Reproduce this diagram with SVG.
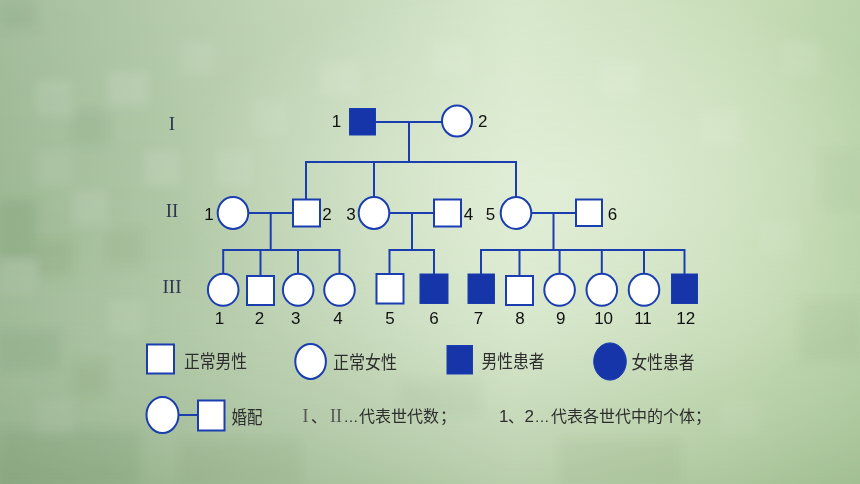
<svg xmlns="http://www.w3.org/2000/svg" width="860" height="484" viewBox="0 0 860 484">
<defs>
  <linearGradient id="bgH" x1="0" y1="0" x2="1" y2="0">
    <stop offset="0" stop-color="#9db894"/>
    <stop offset="0.3" stop-color="#b9cfae"/>
    <stop offset="0.6" stop-color="#d3e5c6"/>
    <stop offset="0.85" stop-color="#c4dbb3"/>
    <stop offset="1" stop-color="#b5d0a4"/>
  </linearGradient>
  <linearGradient id="bgV" x1="0" y1="0" x2="0" y2="1">
    <stop offset="0" stop-color="#ffffff" stop-opacity="0.08"/>
    <stop offset="0.5" stop-color="#ffffff" stop-opacity="0"/>
    <stop offset="1" stop-color="#5d7f52" stop-opacity="0.22"/>
  </linearGradient>
  <radialGradient id="glow" cx="0.65" cy="0.4" r="0.45">
    <stop offset="0" stop-color="#eef6e6" stop-opacity="0.55"/>
    <stop offset="1" stop-color="#eef6e6" stop-opacity="0"/>
  </radialGradient>
  <filter id="soft" x="-5%" y="-5%" width="110%" height="110%">
    <feGaussianBlur stdDeviation="5"/>
  </filter>
  <style>
    .ln{fill:none;stroke:#1a3db0;stroke-width:2}
    .m{fill:#ffffff;stroke:#1a3db0;stroke-width:2}
    .a{fill:#1535a8;stroke:#1a3db0;stroke-width:1}
    .num{font-family:"Liberation Sans",Arial,sans-serif;font-size:17px;fill:#111111}
    .rom{font-family:"Liberation Serif","Times New Roman",serif;font-size:19px;fill:#2e3650}
    .lg{font-family:"Noto Sans CJK SC","Noto Sans",sans-serif;font-size:18px;fill:#2d2d2d}
    .lg2{font-family:"Noto Sans CJK SC","Noto Sans",sans-serif;font-size:16px;fill:#2d2d2d}
    .ser{font-family:"Liberation Serif","Times New Roman",serif;font-size:18px;fill:#555555}
    .san{font-family:"Liberation Sans",Arial,sans-serif;font-size:17px}
    .ell{font-family:"Liberation Sans",Arial,sans-serif;font-size:15px}
    .lt{fill:#ffffff}
    .dk{fill:#4f7446}
  </style>
</defs>

<g id="background">
  <rect x="0" y="0" width="860" height="484" fill="url(#bgH)"/>
  <g filter="url(#soft)">
    <rect class="lt" x="36" y="80" width="36" height="36" opacity="0.1"/>
    <rect class="lt" x="108" y="72" width="40" height="34" opacity="0.12"/>
    <rect class="lt" x="180" y="40" width="36" height="36" opacity="0.08"/>
    <rect class="lt" x="36" y="150" width="36" height="36" opacity="0.08"/>
    <rect class="lt" x="144" y="150" width="36" height="36" opacity="0.11"/>
    <rect class="lt" x="216" y="150" width="36" height="36" opacity="0.08"/>
    <rect class="lt" x="72" y="190" width="36" height="36" opacity="0.1"/>
    <rect class="lt" x="252" y="100" width="36" height="36" opacity="0.08"/>
    <rect class="lt" x="0" y="260" width="36" height="36" opacity="0.07"/>
    <rect class="lt" x="108" y="300" width="36" height="36" opacity="0.08"/>
    <rect class="lt" x="36" y="400" width="36" height="36" opacity="0.07"/>
    <rect class="lt" x="320" y="60" width="40" height="36" opacity="0.1"/>
    <rect class="lt" x="430" y="40" width="40" height="36" opacity="0.08"/>
    <rect class="lt" x="600" y="60" width="40" height="36" opacity="0.1"/>
    <rect class="lt" x="700" y="110" width="40" height="36" opacity="0.1"/>
    <rect class="lt" x="780" y="40" width="40" height="36" opacity="0.08"/>
    <rect class="lt" x="760" y="220" width="40" height="36" opacity="0.08"/>
    <rect class="lt" x="720" y="400" width="40" height="36" opacity="0.07"/>
    <rect class="dk" x="0" y="0" width="36" height="30" opacity="0.1"/>
    <rect class="dk" x="72" y="110" width="36" height="36" opacity="0.08"/>
    <rect class="dk" x="0" y="200" width="36" height="60" opacity="0.13"/>
    <rect class="dk" x="36" y="240" width="36" height="36" opacity="0.09"/>
    <rect class="dk" x="108" y="230" width="36" height="36" opacity="0.07"/>
    <rect class="dk" x="0" y="330" width="60" height="40" opacity="0.11"/>
    <rect class="dk" x="72" y="360" width="36" height="36" opacity="0.09"/>
    <rect class="dk" x="0" y="430" width="140" height="54" opacity="0.11"/>
    <rect class="dk" x="180" y="440" width="120" height="44" opacity="0.07"/>
    <rect class="dk" x="400" y="380" width="80" height="36" opacity="0.05"/>
    <rect class="dk" x="560" y="440" width="120" height="44" opacity="0.07"/>
    <rect class="dk" x="800" y="300" width="60" height="60" opacity="0.07"/>
    <rect class="dk" x="820" y="150" width="40" height="60" opacity="0.05"/>
  </g>
  <rect x="0" y="0" width="860" height="484" fill="url(#glow)"/>
  <rect x="0" y="0" width="860" height="484" fill="url(#bgV)"/>
</g>

<g id="connectors">
  <line class="ln" x1="376" y1="122" x2="442" y2="122"/>
  <line class="ln" x1="409" y1="122" x2="409" y2="162"/>
  <line class="ln" x1="305" y1="162" x2="517" y2="162"/>
  <line class="ln" x1="306" y1="162" x2="306" y2="200"/>
  <line class="ln" x1="374" y1="162" x2="374" y2="197"/>
  <line class="ln" x1="516" y1="162" x2="516" y2="197"/>
  <line class="ln" x1="248.5" y1="213" x2="293" y2="213"/>
  <line class="ln" x1="389.5" y1="213" x2="434" y2="213"/>
  <line class="ln" x1="531.5" y1="213" x2="576" y2="213"/>
  <line class="ln" x1="270.7" y1="213" x2="270.7" y2="250"/>
  <line class="ln" x1="412" y1="213" x2="412" y2="250"/>
  <line class="ln" x1="553.5" y1="213" x2="553.5" y2="250"/>
  <path class="ln" d="M223.2 274 V250 H339.5 V274 M260.5 250 V276 M298 250 V274"/>
  <path class="ln" d="M389.5 274 V250 H434 V274"/>
  <path class="ln" d="M481 274 V250 H684.5 V274 M519.5 250 V276 M559.6 250 V274 M601.8 250 V274 M644 250 V274"/>
  <line class="ln" x1="178.5" y1="415" x2="198" y2="415"/>
</g>

<g id="gen-labels">
  <text class="rom" x="172" y="130" text-anchor="middle">I</text>
  <text class="rom" x="172" y="216.5" text-anchor="middle">II</text>
  <text class="rom" x="172" y="292.5" text-anchor="middle">III</text>
</g>

<g id="I-1"><rect class="a" x="349.5" y="108.5" width="26" height="26.5"/><text class="num" x="336.5" y="127" text-anchor="middle">1</text></g>
<g id="I-2"><ellipse class="m" cx="457" cy="121" rx="15" ry="15.5"/><text class="num" x="482.7" y="127" text-anchor="middle">2</text></g>

<g id="II-1"><ellipse class="m" cx="233" cy="213" rx="15.3" ry="16"/><text class="num" x="209" y="219.5" text-anchor="middle">1</text></g>
<g id="II-2"><rect class="m" x="293" y="199.5" width="27" height="27"/><text class="num" x="327" y="219.5" text-anchor="middle">2</text></g>
<g id="II-3"><ellipse class="m" cx="374" cy="213" rx="15.3" ry="16"/><text class="num" x="351" y="219.5" text-anchor="middle">3</text></g>
<g id="II-4"><rect class="m" x="434" y="199.5" width="27" height="27"/><text class="num" x="468.5" y="219.5" text-anchor="middle">4</text></g>
<g id="II-5"><ellipse class="m" cx="516" cy="213" rx="15.3" ry="16"/><text class="num" x="490.5" y="219.5" text-anchor="middle">5</text></g>
<g id="II-6"><rect class="m" x="576" y="199.5" width="26" height="26.5"/><text class="num" x="612.5" y="219.5" text-anchor="middle">6</text></g>

<g id="III-1"><ellipse class="m" cx="223.2" cy="289.8" rx="15.3" ry="16"/><text class="num" x="219.6" y="323.5" text-anchor="middle">1</text></g>
<g id="III-2"><rect class="m" x="247" y="276" width="27" height="29"/><text class="num" x="259.6" y="323.5" text-anchor="middle">2</text></g>
<g id="III-3"><ellipse class="m" cx="298.2" cy="289.8" rx="15.3" ry="16"/><text class="num" x="295.7" y="323.5" text-anchor="middle">3</text></g>
<g id="III-4"><ellipse class="m" cx="339.5" cy="289.8" rx="15.3" ry="16"/><text class="num" x="338" y="323.5" text-anchor="middle">4</text></g>
<g id="III-5"><rect class="m" x="376.5" y="274" width="27" height="29.5"/><text class="num" x="390" y="323.5" text-anchor="middle">5</text></g>
<g id="III-6"><rect class="a" x="420" y="274" width="28" height="29.5"/><text class="num" x="434" y="323.5" text-anchor="middle">6</text></g>
<g id="III-7"><rect class="a" x="468" y="274" width="26.5" height="29.5"/><text class="num" x="478.6" y="323.5" text-anchor="middle">7</text></g>
<g id="III-8"><rect class="m" x="506" y="276" width="27" height="29"/><text class="num" x="520" y="323.5" text-anchor="middle">8</text></g>
<g id="III-9"><ellipse class="m" cx="559.6" cy="289.8" rx="15.3" ry="16"/><text class="num" x="560.7" y="323.5" text-anchor="middle">9</text></g>
<g id="III-10"><ellipse class="m" cx="601.8" cy="289.8" rx="15.3" ry="16"/><text class="num" x="603.6" y="323.5" text-anchor="middle">10</text></g>
<g id="III-11"><ellipse class="m" cx="644" cy="289.8" rx="15.3" ry="16"/><text class="num" x="643" y="323.5" text-anchor="middle">11</text></g>
<g id="III-12"><rect class="a" x="671.5" y="274" width="26" height="29.5"/><text class="num" x="685.7" y="323.5" text-anchor="middle">12</text></g>

<g id="legend-normal-male"><rect class="m" x="147" y="344.5" width="27" height="29"/><text class="lg" x="184" y="368" textLength="63" lengthAdjust="spacingAndGlyphs">正常男性</text></g>
<g id="legend-normal-female"><ellipse class="m" cx="310.6" cy="361.4" rx="15.3" ry="17.5"/><text class="lg" x="333" y="368.5" textLength="64" lengthAdjust="spacingAndGlyphs">正常女性</text></g>
<g id="legend-affected-male"><rect class="a" x="447" y="345.5" width="25.5" height="28.5"/><text class="lg" x="481.5" y="367.5" textLength="63" lengthAdjust="spacingAndGlyphs">男性患者</text></g>
<g id="legend-affected-female"><ellipse class="a" cx="610" cy="361.5" rx="16.3" ry="18.6"/><text class="lg" x="631.5" y="368.5" textLength="63" lengthAdjust="spacingAndGlyphs">女性患者</text></g>
<g id="legend-marriage"><ellipse class="m" cx="162.5" cy="415" rx="16" ry="18"/><rect class="m" x="198" y="400.5" width="26.5" height="30"/><text class="lg" x="231.5" y="423.5" textLength="31" lengthAdjust="spacingAndGlyphs">婚配</text></g>
<g id="legend-generation"><text class="lg2" y="422"><tspan class="ser" x="302.5">I</tspan><tspan x="311">、</tspan><tspan class="ser" x="330">II</tspan><tspan class="ell" x="343.5">…</tspan><tspan x="359">代表世代数</tspan><tspan x="440">；</tspan></text></g>
<g id="legend-individual"><text class="lg2" y="422"><tspan class="san" x="499">1</tspan><tspan x="508">、</tspan><tspan class="san" x="524.5">2</tspan><tspan class="ell" x="534.5">…</tspan><tspan x="551">代表各世代中的个体</tspan><tspan x="695">；</tspan></text></g>
</svg>
